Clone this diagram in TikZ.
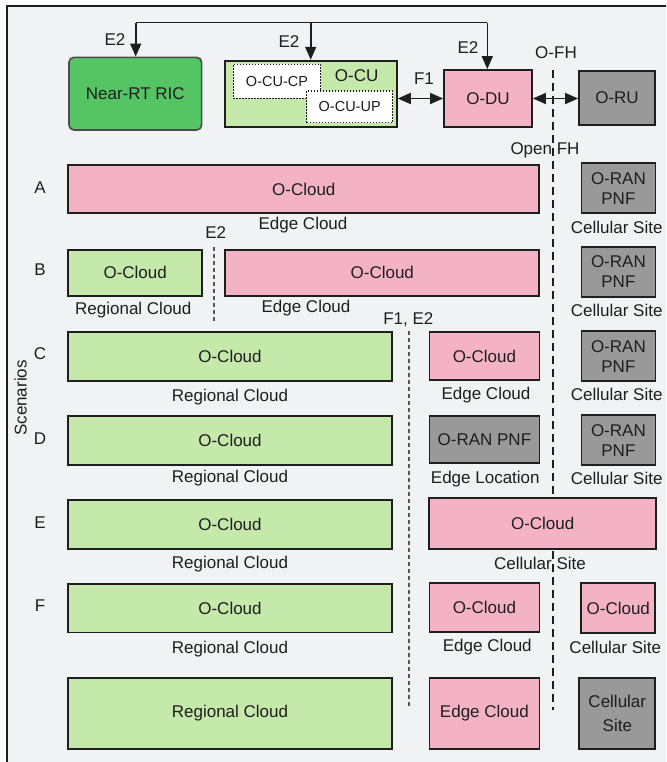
\documentclass[tikz,border=0pt]{standalone}
\usepackage{fontspec}
\setmainfont{Liberation Sans}
\usetikzlibrary{arrows.meta}

\definecolor{bgray}{HTML}{F1F2F4}
\definecolor{ricgreen}{HTML}{55C464}
\definecolor{lgreen}{HTML}{C5E8AB}
\definecolor{cpink}{HTML}{F4B3C5}
\definecolor{cgray}{HTML}{999999}
\definecolor{ink}{HTML}{1E1E1E}

\begin{document}
\begin{tikzpicture}[x=1pt, y=-1pt,
  every node/.style={font=\fontsize{17}{20}\selectfont, text=ink},
  box/.style={draw=ink, line width=1.8pt, inner sep=0pt, align=center},
  edgebox/.style={box, fill=cpink},
  regbox/.style={box, fill=lgreen},
  pnfbox/.style={box, fill=cgray},
  subbox/.style={draw=ink, fill=white, line width=1.5pt, dash pattern=on 1.5pt off 1.5pt, inner sep=0pt, font=\fontsize{14.5}{17}\selectfont},
  wire/.style={draw=ink, line width=1.6pt},
  e2arrow/.style={wire, -{Triangle[length=13pt, width=11pt]}},
  duplex/.style={wire, {Triangle[length=13pt, width=11pt]}-{Triangle[length=13pt, width=11pt]}},
  splitline/.style={draw=ink!75, line width=1.1pt, dash pattern=on 4pt off 3pt},
  fhline/.style={draw=ink, line width=2pt, dash pattern=on 8pt off 5pt}]

\useasboundingbox (0,0) rectangle (666,762);
\clip (0,0) rectangle (666,762);
\draw[draw=ink, line width=2pt, fill=bgray] (6.5,6.5) rectangle (700,800);

\coordinate (fhtop) at (553.3,70);
\coordinate (fhbot) at (553.3,710);
\draw[fhline] (fhtop) -- (fhbot);

\node[rounded corners=5pt, draw=ink!80, line width=1.6pt, fill=ricgreen, minimum width=132.7pt, minimum height=72.7pt] (ric) at (135.3,93.7) {Near-RT RIC};
\node[regbox, minimum width=171.7pt, minimum height=66pt] (ocu) at (311,93.7) {};
\node (oculbl) at (356.7,75.7) {O-CU};
\node[subbox, minimum width=87.4pt, minimum height=34pt] (cucp) at (277,81.3) {O-CU-CP};
\node[subbox, minimum width=86pt, minimum height=31.7pt] (cuup) at (349.7,106.8) {O-CU-UP};
\node[edgebox, minimum width=88pt, minimum height=57pt] (odu) at (488,98.5) {O-DU};
\node[pnfbox, minimum width=76pt, minimum height=54pt] (oru) at (617,98) {O-RU};

\node (e2ric) at (115,40) {E2};
\node (e2cu) at (289,41.7) {E2};
\node (e2du) at (468,48) {E2};
\node (f1) at (424,79) {F1};
\node (ofh) at (556,53) {O-FH};
\node (openfh) at (545,150.5) {Open FH};

\node[rotate=90] (scen) at (20.5,398) {Scenarios};
\node (la) at (40,188) {A};
\node (lb) at (40,270) {B};
\node (lc) at (40,354) {C};
\node (ld) at (40,438.7) {D};
\node (le) at (40,522.7) {E};
\node (lf) at (40,605.7) {F};

\node[edgebox, minimum width=471pt, minimum height=48pt] (aedge) at (303.8,189) {O-Cloud};
\node (aedgelbl) at (303,225.5) {Edge Cloud};
\node[pnfbox, minimum width=74pt, minimum height=50pt] (apnf) at (618.4,188.3) {O-RAN\\PNF};
\node (apnflbl) at (616.7,227.5) {Cellular Site};

\node (e2split) at (215.7,232.7) {E2};
\node[regbox, minimum width=133.7pt, minimum height=46.3pt] (breg) at (135.2,272.8) {O-Cloud};
\node (breglbl) at (133.3,310.2) {Regional Cloud};
\node[edgebox, minimum width=314pt, minimum height=46.3pt] (bedge) at (382.3,272.8) {O-Cloud};
\node (bedgelbl) at (306,308.2) {Edge Cloud};
\node[pnfbox, minimum width=74pt, minimum height=50pt] (bpnf) at (618.4,271.8) {O-RAN\\PNF};
\node (bpnflbl) at (616.7,310.2) {Cellular Site};

\node (f1split) at (408.3,319.3) {F1, E2};
\node[regbox, minimum width=323.4pt, minimum height=48.7pt] (creg) at (230,356.3) {O-Cloud};
\node (creglbl) at (230,397.5) {Regional Cloud};
\node[edgebox, minimum width=110pt, minimum height=48.3pt] (cedge) at (484.4,356.2) {O-Cloud};
\node (cedgelbl) at (486,395.5) {Edge Cloud};
\node[pnfbox, minimum width=74pt, minimum height=50pt] (cpnf) at (618.4,356.2) {O-RAN\\PNF};
\node (cpnflbl) at (616.7,394.8) {Cellular Site};

\node[regbox, minimum width=323.4pt, minimum height=48.7pt] (dreg) at (230,440.3) {O-Cloud};
\node (dreglbl) at (230,478.2) {Regional Cloud};
\node[pnfbox, minimum width=110pt, minimum height=47.6pt] (dloc) at (484.4,439.5) {O-RAN PNF};
\node (dloclbl) at (485.3,478.8) {Edge Location};
\node[pnfbox, minimum width=74pt, minimum height=50pt] (dpnf) at (618.4,440.2) {O-RAN\\PNF};
\node (dpnflbl) at (616.7,478.8) {Cellular Site};

\node[regbox, minimum width=323.4pt, minimum height=48.7pt] (ereg) at (230,524.3) {O-Cloud};
\node (ereglbl) at (230,563.8) {Regional Cloud};
\node[edgebox, minimum width=226.7pt, minimum height=50.3pt] (esite) at (542.7,523.5) {O-Cloud};
\node (esitelbl) at (540,563.8) {Cellular Site};

\node[regbox, minimum width=323.4pt, minimum height=48.7pt] (freg) at (230,608.2) {O-Cloud};
\node (freglbl) at (230,649.2) {Regional Cloud};
\node[edgebox, minimum width=110pt, minimum height=49pt] (fedge) at (484.4,607.2) {O-Cloud};
\node (fedgelbl) at (487.3,647.5) {Edge Cloud};
\node[edgebox, minimum width=74pt, minimum height=50.7pt] (fsite) at (618.3,608) {O-Cloud};
\node (fsitelbl) at (615.3,647.5) {Cellular Site};

\node[regbox, minimum width=323.4pt, minimum height=71pt] (greg) at (230,713.5) {Regional Cloud};
\node[edgebox, minimum width=110pt, minimum height=71pt] (gedge) at (484.4,713.5) {Edge Cloud};
\node[pnfbox, minimum width=76pt, minimum height=71pt] (gsite) at (617.3,713.5) {Cellular\\[4pt]Site};

\coordinate (busric) at (135.7,22.7);
\coordinate (buscu) at (310.7,22.7);
\coordinate (busdu) at (487.3,22.7);
\draw[wire] (busric) -- (busdu);
\draw[e2arrow] (busric) -- (busric |- ric.north);
\draw[e2arrow] (buscu) -- (buscu |- ocu.north);
\draw[e2arrow] (busdu) -- (busdu |- odu.north);
\draw[duplex] (ocu.east |- odu) -- (odu.west);
\draw[duplex] (odu.east) -- (odu.east -| oru.west);

\coordinate (e2top) at (214,246.7);
\coordinate (e2bot) at (214,322.7);
\draw[splitline] (e2top) -- (e2bot);
\coordinate (f1top) at (409,331);
\coordinate (f1bot) at (409,707);
\draw[splitline] (f1top) -- (f1bot);
\end{tikzpicture}
\end{document}
